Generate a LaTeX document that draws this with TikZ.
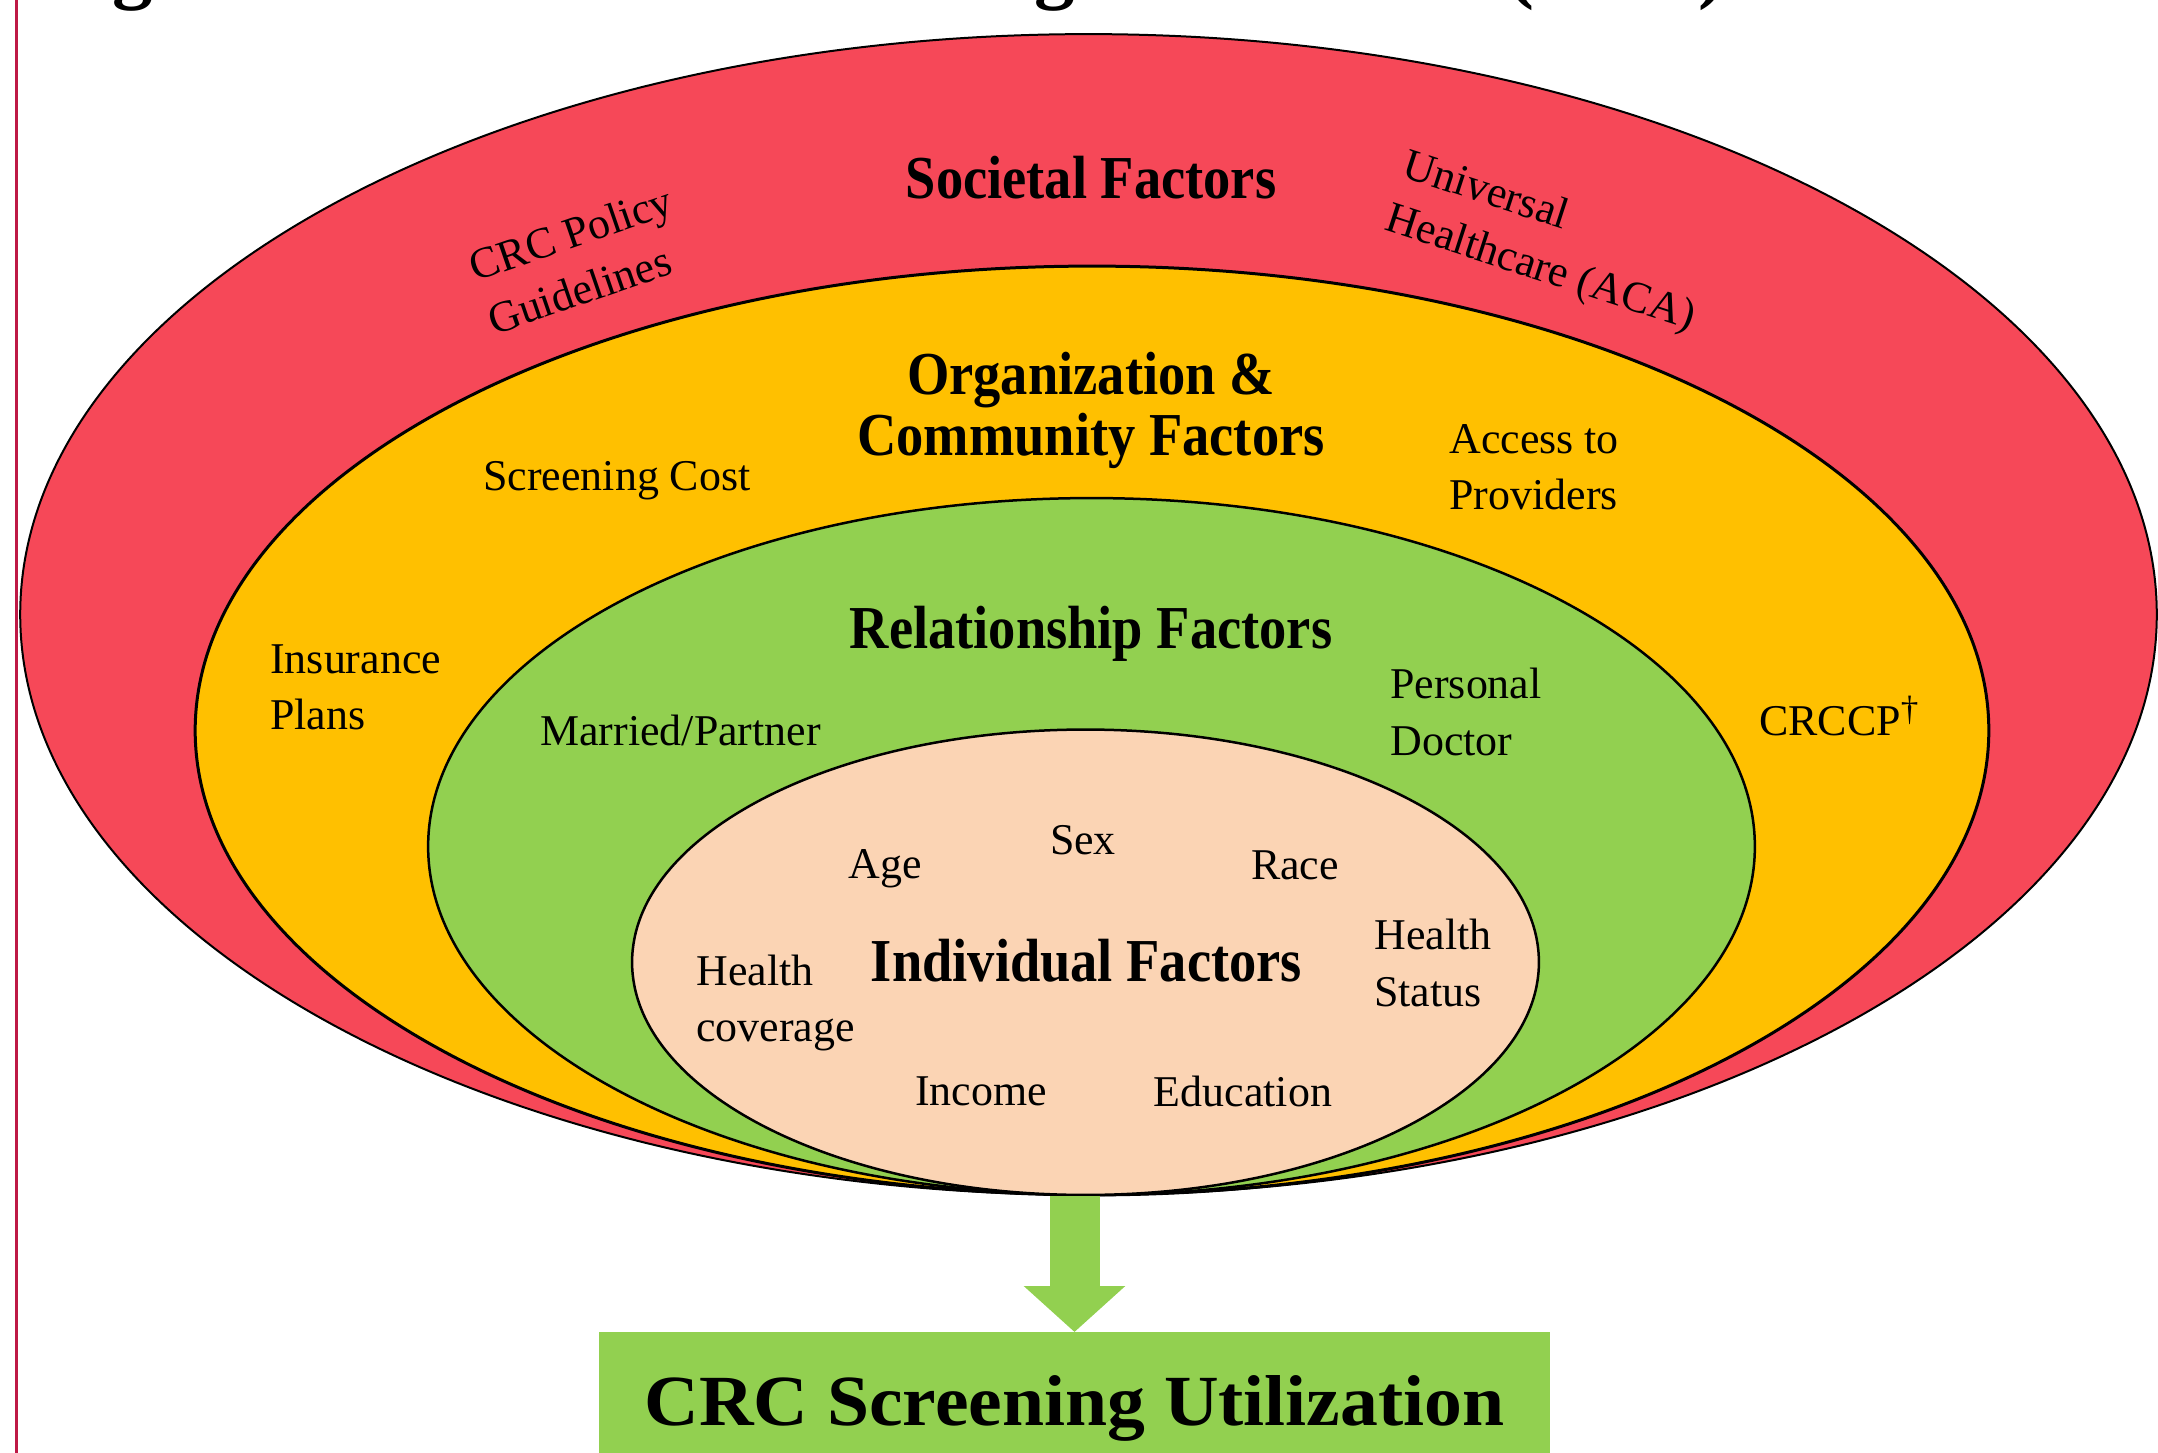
\documentclass[tikz,border=0pt]{standalone}
\usepackage{fontspec}
\setmainfont{Liberation Serif}
\usetikzlibrary{shapes.geometric,arrows.meta,calc}
\definecolor{societal}{RGB}{246,72,88}
\definecolor{orgcomm}{RGB}{255,192,0}
\definecolor{relation}{RGB}{146,208,80}
\definecolor{indiv}{RGB}{251,212,180}
\definecolor{pageline}{RGB}{190,25,70}
\newcommand{\hdrtext}[1]{\scalebox{1}[1.12]{\begin{tabular}{@{}c@{}}#1\end{tabular}}}

\begin{document}
\begin{tikzpicture}[x=0.02cm,y=-0.02cm,
  layer/.style={ellipse, draw=black, line width=0.05cm, inner sep=0pt, outer sep=0pt},
  item/.style={font=\fontsize{25}{32}\selectfont, align=left, inner sep=0pt},
  head/.style={font=\fontsize{31}{31}\selectfont\bfseries, align=center, inner sep=0pt},
  frag/.style={font=\fontsize{46}{50}\selectfont\bfseries, anchor=base, inner sep=0pt},
]
\useasboundingbox (0,0) rectangle (2158,1453);

% page rule on the left
\draw[pageline, line width=0.05cm] (16.5,0) coordinate (rtop) -- (16.5,1453) coordinate (rbot);

% descenders of the heading above the frame
\node[frag] (fg1) at (133,-6) {g};
\node[frag] (fg2) at (1055,-6) {g};
\node[frag] (fp1) at (1521,-6) {(};
\node[frag] (fp2) at (1712,-6) {)};

% nested levels of the model
\node[layer, line width=0.04cm, fill=societal, minimum width=42.74cm, minimum height=23.22cm] (soc) at (1088.5,614.5) {};
\node[layer, line width=0.06cm, fill=orgcomm, minimum width=35.88cm, minimum height=18.58cm] (org) at (1092,730.5) {};
\node[layer, fill=relation, minimum width=26.54cm, minimum height=13.94cm] (rel) at (1091.5,846.5) {};
\node[layer, fill=indiv, minimum width=18.14cm, minimum height=9.31cm] (ind) at (1085.5,962.25) {};

% outcome box
\node[fill=relation, inner sep=0pt, anchor=north, minimum width=19.02cm,
      text height=1.86cm, text depth=1.2cm,
      font=\fontsize{41}{45}\selectfont\bfseries] (outcome) at (1074.5,1332)
      {\scalebox{1.05}[1]{CRC Screening Utilization}};

% arrow from the model down to the outcome
\draw[relation, line width=1cm, -{Triangle[width=1.98cm,length=0.92cm]}]
  ($(outcome.north |- ind.south)+(0,1)$) -- (outcome.north);

% level headings
\node[head] (hsoc) at (1091,186) {\hdrtext{Societal Factors}};
\node[head] (horg) at (1091,413) {\hdrtext{Organization \&\\Community Factors}};
\node[head] (hrel) at (1091,636) {\hdrtext{Relationship Factors}};
\node[head] (hind) at (1086.5,969) {\hdrtext{Individual Factors}};

% societal factors
\node[item, rotate=19] (policy) at (580,260) {CRC Policy\\Guidelines};
\node[item, rotate=-18] (aca) at (1549,243) {Universal\\Healthcare (ACA)};

% organization and community factors
\node[item, anchor=west] (cost) at (483,481) {Screening Cost};
\node[item, anchor=west] (access) at (1449,467) {Access to\\Providers};
\node[item, anchor=west] (insur) at (270,687) {Insurance\\Plans};
\node[item, anchor=west] (crccp) at (1759,716) {CRCCP\raisebox{0.32em}{\fontsize{20}{20}\selectfont\dag}};

% relationship factors
\node[item, anchor=west] (married) at (540,730) {Married/Partner};
\node[item, anchor=west] (doctor) at (1390,712) {Personal\\Doctor};

% individual factors
\node[item] (age) at (885,869) {Age};
\node[item] (sex) at (1083,840) {Sex};
\node[item] (race) at (1295,865) {Race};
\node[item, anchor=west] (cover) at (696,1003) {Health\\coverage};
\node[item, anchor=west] (status) at (1374,963) {Health\\Status};
\node[item] (income) at (981,1091) {Income};
\node[item] (educ) at (1243,1091) {Education};
\end{tikzpicture}
\end{document}
